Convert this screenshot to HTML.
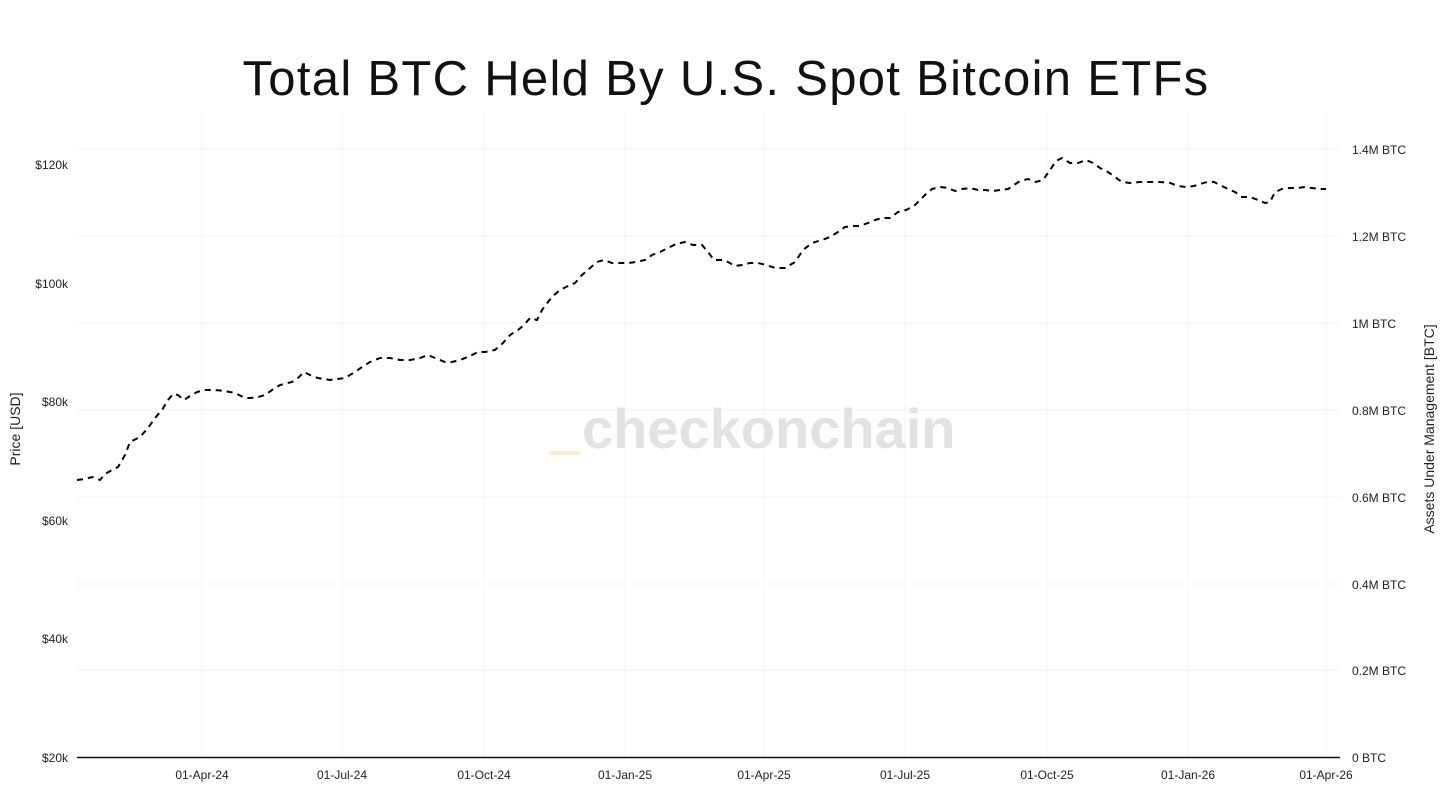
<!DOCTYPE html>
<html><head><meta charset="utf-8"><style>
body{margin:0;background:#fff;}
svg text{font-family:"Liberation Sans",sans-serif;}
</style></head><body>
<svg width="1452" height="802" viewBox="0 0 1452 802" xmlns="http://www.w3.org/2000/svg">
<rect width="1452" height="802" fill="#fff"/>
<text x="726" y="95" text-anchor="middle" font-size="49" letter-spacing="1.3" fill="#111">Total BTC Held By U.S. Spot Bitcoin ETFs</text>
<g stroke="#f3f3f3" stroke-width="1">
<line x1="202" y1="112" x2="202" y2="757"/><line x1="342" y1="112" x2="342" y2="757"/><line x1="484" y1="112" x2="484" y2="757"/><line x1="625" y1="112" x2="625" y2="757"/><line x1="764" y1="112" x2="764" y2="757"/><line x1="905" y1="112" x2="905" y2="757"/><line x1="1047" y1="112" x2="1047" y2="757"/><line x1="1188" y1="112" x2="1188" y2="757"/><line x1="1326" y1="112" x2="1326" y2="757"/>
<line x1="77" y1="149" x2="1340" y2="149"/><line x1="77" y1="236" x2="1340" y2="236"/><line x1="77" y1="323" x2="1340" y2="323"/><line x1="77" y1="410" x2="1340" y2="410"/><line x1="77" y1="497" x2="1340" y2="497"/><line x1="77" y1="584" x2="1340" y2="584"/><line x1="77" y1="670" x2="1340" y2="670"/>
</g>
<rect x="550" y="451" width="30" height="4" fill="#fde9d0"/>
<text x="582" y="448" font-size="56" font-weight="bold" fill="#e2e2e2">checkonchain</text>
<line x1="77" y1="757.5" x2="1340" y2="757.5" stroke="#111" stroke-width="1.5"/>
<g font-size="12" fill="#222">
<text x="68" y="169" text-anchor="end">$120k</text><text x="68" y="288" text-anchor="end">$100k</text><text x="68" y="406" text-anchor="end">$80k</text><text x="68" y="525" text-anchor="end">$60k</text><text x="68" y="643" text-anchor="end">$40k</text><text x="68" y="762" text-anchor="end">$20k</text>
<text x="1352" y="154">1.4M BTC</text><text x="1352" y="241">1.2M BTC</text><text x="1352" y="328">1M BTC</text><text x="1352" y="415">0.8M BTC</text><text x="1352" y="502">0.6M BTC</text><text x="1352" y="589">0.4M BTC</text><text x="1352" y="675">0.2M BTC</text><text x="1352" y="762">0 BTC</text>
<text x="202" y="779" text-anchor="middle">01-Apr-24</text><text x="342" y="779" text-anchor="middle">01-Jul-24</text><text x="484" y="779" text-anchor="middle">01-Oct-24</text><text x="625" y="779" text-anchor="middle">01-Jan-25</text><text x="764" y="779" text-anchor="middle">01-Apr-25</text><text x="905" y="779" text-anchor="middle">01-Jul-25</text><text x="1047" y="779" text-anchor="middle">01-Oct-25</text><text x="1188" y="779" text-anchor="middle">01-Jan-26</text><text x="1326" y="779" text-anchor="middle">01-Apr-26</text>
</g>
<text transform="translate(20,429) rotate(-90)" text-anchor="middle" font-size="14" fill="#222">Price [USD]</text>
<text transform="translate(1434,429) rotate(-90)" text-anchor="middle" font-size="14" fill="#222">Assets Under Management [BTC]</text>
<polyline fill="none" stroke="#000" stroke-width="2" stroke-dasharray="6,5" points="77,480 85,479 92,477 100,480 105,474 112,470 118,467 125,455 130,442 140,437 148,428 155,418 162,410 168,400 173,394 178,395 184,400 190,396 197,392 205,390 215,390 225,391 235,393 245,398 250,398 258,397 265,395 272,390 280,385 292,382 298,378 304,372 310,375 318,378 330,380 345,378 355,372 362,367 370,362 380,358 390,358 400,360 410,360 420,358 428,355 435,358 445,362 452,362 460,360 470,356 478,352 485,352 495,350 503,343 510,335 518,330 524,325 530,318 537,320 542,310 548,302 553,296 560,290 568,286 575,283 582,275 590,268 597,262 604,260 612,263 620,263 628,263 636,262 645,260 652,255 660,252 668,248 676,244 685,242 693,245 702,245 708,252 714,260 722,260 728,262 735,266 742,265 750,263 758,263 766,265 775,268 785,268 795,262 803,250 812,243 822,240 830,237 838,232 845,227 853,226 860,226 868,223 875,220 882,218 890,218 898,212 906,210 914,206 920,200 926,194 932,189 940,187 948,188 955,191 962,189 970,188 978,190 985,190 993,191 1000,190 1008,189 1014,185 1020,181 1028,179 1036,182 1043,180 1050,170 1056,161 1062,158 1070,163 1078,163 1086,160 1093,163 1100,168 1108,172 1115,177 1122,182 1130,183 1140,182 1150,182 1160,182 1170,183 1178,186 1186,187 1194,186 1200,184 1207,182 1214,182 1220,185 1228,189 1235,192 1242,197 1250,197 1258,200 1265,203 1270,202 1275,192 1282,189 1290,188 1298,188 1305,187 1312,188 1320,189 1326,189"/>
</svg>
</body></html>
